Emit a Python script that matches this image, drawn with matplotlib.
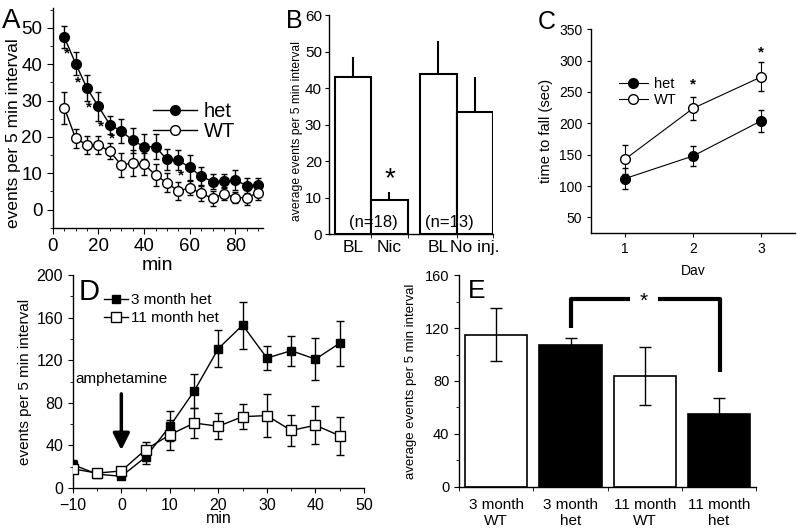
import numpy as np
import matplotlib
matplotlib.use('Agg')
import matplotlib.pyplot as plt
from matplotlib.ticker import MultipleLocator, FixedLocator

plt.rcParams['font.family'] = ['Liberation Sans', 'DejaVu Sans']
plt.rcParams['axes.linewidth'] = 1.0

# panel A: events per 5 min interval, het vs WT
a_min = [5, 10, 15, 20, 25, 30, 35, 40, 45, 50, 55, 60, 65, 70, 75, 80, 85, 90]
a_het = [47.5, 40.2, 33.4, 28.4, 23.4, 21.6, 19.1, 17.3, 17.3, 13.8, 13.6, 11.6, 9.2, 7.7, 7.9, 8.1, 6.6, 6.8]
a_het_err = [3.0, 3.2, 3.6, 3.9, 2.5, 3.4, 3.4, 3.4, 3.4, 2.8, 2.7, 3.4, 2.4, 2.1, 2.0, 2.8, 2.0, 2.0]
a_wt = [28.1, 19.6, 17.8, 17.8, 16.0, 12.3, 12.8, 12.5, 9.5, 7.4, 5.1, 6.0, 4.5, 3.1, 4.4, 3.3, 3.3, 4.7]
a_wt_err = [4.4, 2.6, 2.4, 2.4, 2.2, 3.4, 3.5, 3.0, 3.0, 2.6, 2.4, 2.0, 2.1, 2.0, 1.8, 1.5, 2.0, 2.0]
a_star_x = [6, 11, 16, 21, 26, 56]
a_star_y = [43, 35, 28, 23, 19.7, 9.5]

# panel B: nicotine bars
b_labels = ['BL', 'Nic', 'BL', 'No inj.']
b_pos = [0, 1, 2.35, 3.35]
b_vals = [43, 9.5, 44, 33.5]
b_err = [5.5, 2, 9, 9.5]

# panel C: rotarod
c_day = [1, 2, 3]
c_het = [112, 148, 204]
c_het_err = [17, 16, 18]
c_wt = [143, 224, 274]
c_wt_err = [23, 18, 23]
c_star_x = [2, 3]
c_star_y = [262, 313]

# panel D: amphetamine time course
d_min = [-10, -5, 0, 5, 10, 15, 20, 25, 30, 35, 40, 45]
d_3mo = [22, 13, 11, 29, 58, 91, 131, 153, 122, 129, 121, 136]
d_3mo_err = [4, 2, 3, 6, 14, 16, 17, 22, 11, 14, 20, 21]
d_11mo = [18, 14, 16, 36, 50, 61, 58, 67, 68, 54, 59, 49]
d_11mo_err = [4, 2, 3, 7, 14, 14, 12, 12, 20, 15, 18, 18]

# panel E: average events
e_labels = ['3 month\nWT', '3 month\nhet', '11 month\nWT', '11 month\nhet']
e_vals = [115, 107, 83.5, 55]
e_err = [20, 5.5, 22, 12]
e_colors = ['white', 'black', 'white', 'black']

fig = plt.figure(figsize=(8, 5.31), dpi=100)

# ---- A ----
ax = fig.add_axes([0.066, 0.571, 0.2625, 0.414])
ax.errorbar(a_min, a_het, yerr=a_het_err, fmt='-o', color='black', mfc='black',
            ms=7, lw=1, elinewidth=1, capsize=2.5, label='het', zorder=3)
ax.errorbar(a_min, a_wt, yerr=a_wt_err, fmt='-o', color='black', mfc='white',
            ms=7, lw=1, elinewidth=1, capsize=2.5, label='WT', zorder=3)
for x, y in zip(a_star_x, a_star_y):
    ax.text(x, y, '*', ha='center', va='center', fontsize=11, fontweight='bold')
ax.set_xlim(0, 92)
ax.set_ylim(-5, 55.5)
ax.xaxis.set_major_locator(FixedLocator([0, 20, 40, 60, 80]))
ax.xaxis.set_minor_locator(MultipleLocator(5))
ax.yaxis.set_major_locator(FixedLocator([0, 10, 20, 30, 40, 50]))
ax.yaxis.set_minor_locator(MultipleLocator(5))
ax.tick_params(labelsize=13.5, length=4, direction='out')
ax.tick_params(which='minor', length=2.5)
ax.spines['top'].set_visible(False)
ax.spines['right'].set_visible(False)
ax.set_xlabel('min', fontsize=14, labelpad=1)
ax.set_ylabel('events per 5 min interval', fontsize=12.5, labelpad=2)
ax.yaxis.set_label_coords(-0.15, 0.43)
h, l = ax.get_legend_handles_labels()
h = [hh[0] for hh in h]
ax.legend(h, l, loc='upper left', bbox_to_anchor=(0.43, 0.62), frameon=False,
          fontsize=14.5, handlelength=2.2, handletextpad=0.3, labelspacing=0.05,
          borderpad=0)
fig.text(0.003, 0.948, 'A', fontsize=20)

# ---- B ----
ax = fig.add_axes([0.411, 0.559, 0.205, 0.412])
ax.bar(b_pos, b_vals, width=1, color='white', edgecolor='black', lw=1.5, zorder=2)
ax.errorbar(b_pos, b_vals, yerr=[[0] * 4, b_err], fmt='none', ecolor='black',
            elinewidth=1.5, capsize=0, zorder=1)
ax.text(1, 15, '*', ha='center', va='center', fontsize=20)
ax.text(0.55, 3.2, '(n=18)', ha='center', va='center', fontsize=12)
ax.text(2.65, 3.2, '(n=13)', ha='center', va='center', fontsize=12)
ax.set_xlim(-0.67, 3.85)
ax.set_ylim(0, 60)
ax.set_xticks(b_pos)
ax.set_xticklabels(b_labels)
ax.xaxis.set_minor_locator(FixedLocator([0.5, 1.5, 2.85, 3.85]))
ax.yaxis.set_major_locator(MultipleLocator(10))
ax.tick_params(axis='x', length=0, labelsize=12.5, pad=4)
ax.tick_params(axis='x', which='minor', length=3)
ax.tick_params(axis='y', labelsize=11, length=3, pad=2, direction='out')
ax.spines['top'].set_visible(False)
ax.spines['right'].set_visible(False)
ax.set_ylabel('average events per 5 min interval', fontsize=8.7, labelpad=3)
ax.yaxis.set_label_coords(-0.155, 0.47)
fig.text(0.357, 0.948, 'B', fontsize=18)

# ---- C ----
ax = fig.add_axes([0.739, 0.561, 0.255, 0.384])
ax.errorbar(c_day, c_het, yerr=c_het_err, fmt='-o', color='black', mfc='black',
            ms=7, lw=0.8, elinewidth=0.8, capsize=2.5, label='het', zorder=3)
ax.errorbar(c_day, c_wt, yerr=c_wt_err, fmt='-o', color='black', mfc='white',
            ms=7, lw=0.8, elinewidth=0.8, capsize=2.5, label='WT', zorder=3)
for x, y in zip(c_star_x, c_star_y):
    ax.text(x, y, '*', ha='center', va='center', fontsize=11, fontweight='bold')
ax.set_xlim(0.5, 3.5)
ax.set_ylim(25, 350)
ax.set_xticks(c_day)
ax.yaxis.set_major_locator(FixedLocator([50, 100, 150, 200, 250, 300, 350]))
ax.tick_params(labelsize=10, length=3, direction='out')
ax.spines['top'].set_visible(False)
ax.spines['right'].set_visible(False)
ax.set_xlabel('Day', fontsize=10, labelpad=6)
ax.set_ylabel('time to fall (sec)', fontsize=10.5, labelpad=4)
h, l = ax.get_legend_handles_labels()
h = [hh[0] for hh in h]
ax.legend(h, l, loc='upper left', bbox_to_anchor=(0.1, 0.8), frameon=False,
          fontsize=10.5, handlelength=2.0, handletextpad=0.4, labelspacing=0.1,
          borderpad=0)
fig.text(0.672, 0.945, 'C', fontsize=18)

# ---- D ----
ax = fig.add_axes([0.091, 0.081, 0.364, 0.401])
ax.errorbar(d_min, d_3mo, yerr=d_3mo_err, fmt='-s', color='black', mfc='black',
            ms=6, lw=1, elinewidth=1, capsize=3, label='3 month het', zorder=3)
ax.errorbar(d_min, d_11mo, yerr=d_11mo_err, fmt='-s', color='black', mfc='white',
            ms=7, lw=1, elinewidth=1, capsize=3, label='11 month het', zorder=4)
ax.annotate('', xy=(0, 33), xytext=(0, 91),
            arrowprops=dict(arrowstyle='-|>,head_width=0.5,head_length=1.0',
                            color='black', lw=2.5))
ax.text(0, 96, 'amphetamine', ha='center', va='bottom', fontsize=11)
ax.set_xlim(-10, 50)
ax.set_ylim(0, 200)
ax.xaxis.set_major_locator(MultipleLocator(10))
ax.xaxis.set_minor_locator(MultipleLocator(5))
ax.yaxis.set_major_locator(MultipleLocator(40))
ax.yaxis.set_minor_locator(MultipleLocator(20))
ax.tick_params(labelsize=11.5, length=3.5, direction='out')
ax.tick_params(which='minor', length=2)
ax.spines['top'].set_visible(False)
ax.spines['right'].set_visible(False)
ax.set_xlabel('min', fontsize=11.5, labelpad=-1)
ax.set_ylabel('events per 5 min interval', fontsize=11, labelpad=3)
h, l = ax.get_legend_handles_labels()
h = [hh[0] for hh in h]
ax.legend(h, l, loc='upper left', bbox_to_anchor=(0.08, 0.95), frameon=False,
          fontsize=11, handlelength=1.6, handletextpad=0.2, labelspacing=0.25,
          borderpad=0)
ax.text(0.02, 0.985, 'D', transform=ax.transAxes, fontsize=21, va='top')

# ---- E ----
ax = fig.add_axes([0.574, 0.083, 0.371, 0.399])
e_pos = np.arange(len(e_vals))
ax.bar(e_pos, e_vals, width=0.84, color=e_colors, edgecolor='black', lw=1.2, zorder=2)
ax.errorbar(e_pos, e_vals, yerr=e_err, fmt='none', ecolor='black',
            elinewidth=1, capsize=4, zorder=3)
ax.plot([1, 1, 1.8], [120, 142, 142], color='black', lw=3, solid_capstyle='butt')
ax.plot([2.18, 3.01, 3.01], [142, 142, 87], color='black', lw=3, solid_capstyle='butt')
ax.text(1.98, 140, '*', ha='center', va='center', fontsize=15)
ax.set_xlim(-0.5, 3.5)
ax.set_ylim(0, 160)
ax.set_xticks(e_pos)
ax.set_xticklabels(e_labels)
ax.xaxis.set_minor_locator(FixedLocator([-0.5, 0.5, 1.5, 2.5, 3.5]))
ax.yaxis.set_major_locator(MultipleLocator(40))
ax.yaxis.set_minor_locator(MultipleLocator(20))
ax.tick_params(axis='x', length=0, labelsize=11, pad=8)
ax.tick_params(axis='x', which='minor', length=3)
ax.tick_params(axis='y', labelsize=10.5, length=3.5, direction='out')
ax.tick_params(axis='y', which='minor', length=2)
ax.spines['top'].set_visible(False)
ax.spines['right'].set_visible(False)
ax.set_ylabel('average events per 5 min interval', fontsize=9.5, labelpad=6)
ax.text(0.03, 0.98, 'E', transform=ax.transAxes, fontsize=19, va='top')

fig.savefig('out.png', dpi=100)
